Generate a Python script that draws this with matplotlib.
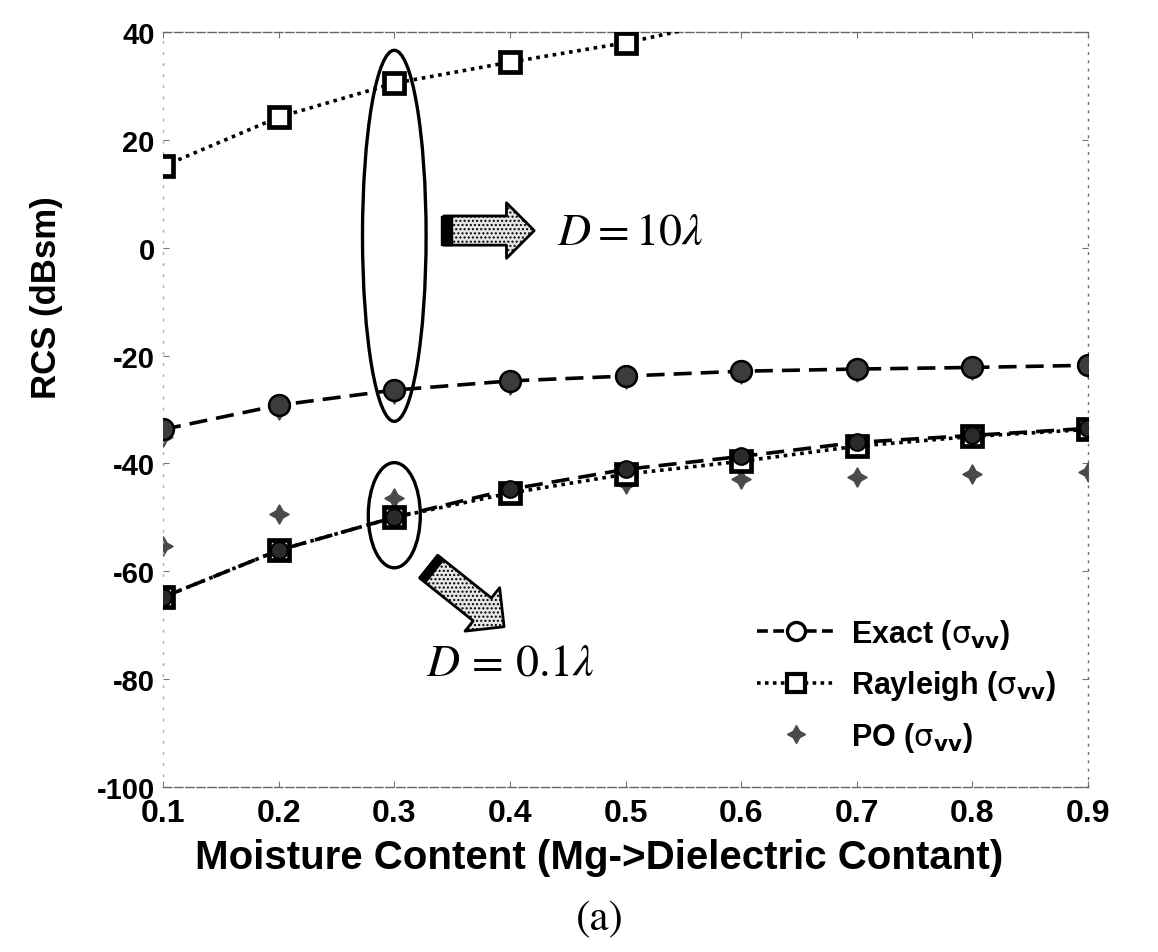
import matplotlib
matplotlib.use('Agg')
import matplotlib.pyplot as plt
from matplotlib.patches import Ellipse, FancyArrowPatch, Rectangle
from matplotlib.lines import Line2D
from matplotlib.font_manager import FontProperties

plt.rcParams['mathtext.fontset'] = 'stix'

# ---------------- data ----------------
moisture = [0.1, 0.2, 0.3, 0.4, 0.5, 0.6, 0.7, 0.8, 0.9]
exact_10 = [-33.7, -29.2, -26.4, -24.7, -23.8, -22.9, -22.5, -22.2, -21.8]
rayleigh_10 = [15.1, 24.2, 30.5, 34.4, 38.0, 42.6, 44.5, 46.0, 47.2]
po_10 = [-35.1, -30.0, -27.2, -25.4, -24.4, -23.5, -23.0, -22.7, -22.3]
exact_01 = [-64.8, -56.1, -50.0, -44.8, -41.1, -38.7, -36.1, -34.8, -33.5]
rayleigh_01 = [-64.8, -56.1, -50.0, -45.5, -42.0, -39.6, -36.8, -35.0, -33.7]
po_01 = [-55.4, -49.4, -46.5, -45.5, -43.9, -42.9, -42.6, -42.0, -41.6]
x_ticks = [0.1, 0.2, 0.3, 0.4, 0.5, 0.6, 0.7, 0.8, 0.9]
y_ticks = [-100, -80, -60, -40, -20, 0, 20, 40]

bold_font = ['Liberation Sans', 'DejaVu Sans']

fig = plt.figure(figsize=(11.58, 9.53), dpi=100)
ax = fig.add_axes([0.1408, 0.1731, 0.7988, 0.7923])

circle_style = dict(marker='o', markersize=15, markerfacecolor='#3c3c3c',
                    markeredgecolor='black', markeredgewidth=1.8)
square_style = dict(marker='s', markersize=14.5, markerfacecolor='white',
                    markeredgecolor='black', markeredgewidth=3.4)
star_style = dict(marker=(4, 1, 0), markersize=14, color='#4a4a4a', linestyle='none')

dash = (0, (5, 2.5))
dots = (0, (1, 1.3))

# PO (drawn first, under)
ax.plot(moisture, po_10, zorder=2, **star_style)
ax.plot(moisture, po_01, zorder=2, **star_style)
# D = 10 lambda
ax.plot(moisture, exact_10, color='black', linestyle=dash, linewidth=2.6,
        zorder=3, **circle_style)
ax.plot(moisture, rayleigh_10, color='black', linestyle=dots, linewidth=2.6,
        zorder=4, **square_style)
# D = 0.1 lambda (squares under the circles so they look filled)
ax.plot(moisture, rayleigh_01, color='black', linestyle=dots, linewidth=2.6,
        zorder=3, **square_style)
ax.plot(moisture, exact_01, color='black', linestyle=dash, linewidth=2.6,
        zorder=4, marker='o', markersize=12, markerfacecolor='#2a2a2a',
        markeredgecolor='black', markeredgewidth=1.5)

ax.set_xlim(0.1, 0.9)
ax.set_ylim(-100, 40)
ax.set_xticks(x_ticks)
ax.set_xticklabels([f'{v:.1f}' for v in x_ticks])
ax.set_yticks(y_ticks)
ax.set_yticklabels([str(v) for v in y_ticks])

for lab in ax.get_xticklabels():
    lab.set_fontfamily(bold_font)
    lab.set_fontweight('bold')
    lab.set_fontsize(23)
for lab in ax.get_yticklabels():
    lab.set_fontfamily(bold_font)
    lab.set_fontweight('bold')
    lab.set_fontsize(21)

ax.tick_params(axis='both', direction='in', length=4, width=0.8, colors='#777777',
               labelcolor='black')
ax.tick_params(axis='x', pad=8)
ax.tick_params(axis='y', pad=6)
ax.yaxis.set_ticks_position('both')
ax.xaxis.set_ticks_position('both')

for side, sp in ax.spines.items():
    sp.set_color('#666666')
    sp.set_linewidth(1.0)
    sp.set_linestyle((0, (6, 2)))
ax.spines['left'].set_linestyle((0, (1, 7)))
ax.spines['left'].set_color('#aaaaaa')
ax.spines['right'].set_linestyle((0, (1, 5)))

ax.set_xlabel('Moisture Content (Mg->Dielectric Contant)', fontfamily=bold_font,
              fontweight='bold', fontsize=29)
ax.xaxis.set_label_coords(0.471, -0.068)
ax.set_ylabel('RCS (dBsm)', fontfamily=bold_font, fontweight='bold', fontsize=25)
ax.yaxis.set_label_coords(-0.108, 0.65)

# ellipses
ax.add_patch(Ellipse((0.3, 2.2), width=0.055, height=68.8, fill=False,
                     edgecolor='black', linewidth=2.4, zorder=5))
ax.add_patch(Ellipse((0.3, -49.6), width=0.045, height=19.5, fill=False,
                     edgecolor='black', linewidth=2.4, zorder=5))

# block arrows (axes fraction coords)
AW, AH = 925.0, 755.0
arrow_style = 'simple,head_width=40,head_length=20,tail_width=21'
arr1 = FancyArrowPatch((0.3005, 0.737), (0.4043, 0.737), transform=ax.transAxes,
                       arrowstyle=arrow_style, mutation_scale=1, facecolor='#e6e6e6',
                       edgecolor='black', linewidth=2.0, hatch='....', zorder=6)
ax.add_patch(arr1)
ax.add_patch(Rectangle((0.3005, 0.737 - 0.0195), 0.012, 0.039, transform=ax.transAxes,
                       facecolor='black', edgecolor='black', zorder=7))

t0 = (0.285, 0.294)
t1 = (0.371, 0.210)
arr2 = FancyArrowPatch(t0, t1, transform=ax.transAxes,
                       arrowstyle=arrow_style, mutation_scale=1, facecolor='#e6e6e6',
                       edgecolor='black', linewidth=2.0, hatch='....', zorder=6)
ax.add_patch(arr2)
# black band at the tail of the diagonal arrow
dx_px, dy_px = (t1[0] - t0[0]) * AW, (t1[1] - t0[1]) * AH
n = (dx_px ** 2 + dy_px ** 2) ** 0.5
ux, uy = dx_px / n, dy_px / n
px_, py_ = -uy, ux
cx, cy = t0[0] * AW + ux * 6, t0[1] * AH + uy * 6
ax.add_line(Line2D([(cx - px_ * 15) / AW, (cx + px_ * 15) / AW],
                   [(cy - py_ * 15) / AH, (cy + py_ * 15) / AH],
                   transform=ax.transAxes, color='black', linewidth=7,
                   solid_capstyle='butt', zorder=7))

ax.text(0.426, 0.737, r'$D=10\lambda$', transform=ax.transAxes, fontsize=33,
        va='center', ha='left', zorder=8)
ax.text(0.284, 0.166, r'$D\,=\,0.1\lambda$', transform=ax.transAxes, fontsize=33,
        va='center', ha='left', zorder=8)

# legend
h_exact = Line2D([], [], color='black', linestyle=(0, (3, 1.5)), linewidth=2.6,
                 marker='o', markersize=13, markerfacecolor='white',
                 markeredgecolor='black', markeredgewidth=2.4)
h_ray = Line2D([], [], color='black', linestyle=(0, (1, 1.2)), linewidth=2.6,
               marker='s', markersize=13, markerfacecolor='white',
               markeredgecolor='black', markeredgewidth=3)
h_po = Line2D([], [], linestyle='none', marker=(4, 1, 0), markersize=13, color='#4a4a4a')
leg_prop = FontProperties(family=bold_font, weight='bold', size=22,
                          math_fontfamily='dejavusans')
leg = ax.legend([h_exact, h_ray, h_po],
                [r'Exact ($\mathrm{\sigma}_{\mathbf{vv}}$)',
                 r'Rayleigh ($\mathrm{\sigma}_{\mathbf{vv}}$)',
                 r'PO ($\mathrm{\sigma}_{\mathbf{vv}}$)'],
                loc='upper left', bbox_to_anchor=(0.612, 0.262), frameon=False,
                handlelength=2.6, handletextpad=0.5, labelspacing=0.58,
                prop=leg_prop)

fig.text(0.518, 0.035, '(a)', fontfamily=['STIXGeneral', 'Liberation Serif', 'DejaVu Serif'],
         fontsize=31, ha='center', va='center')

fig.savefig('out.png', dpi=100)
